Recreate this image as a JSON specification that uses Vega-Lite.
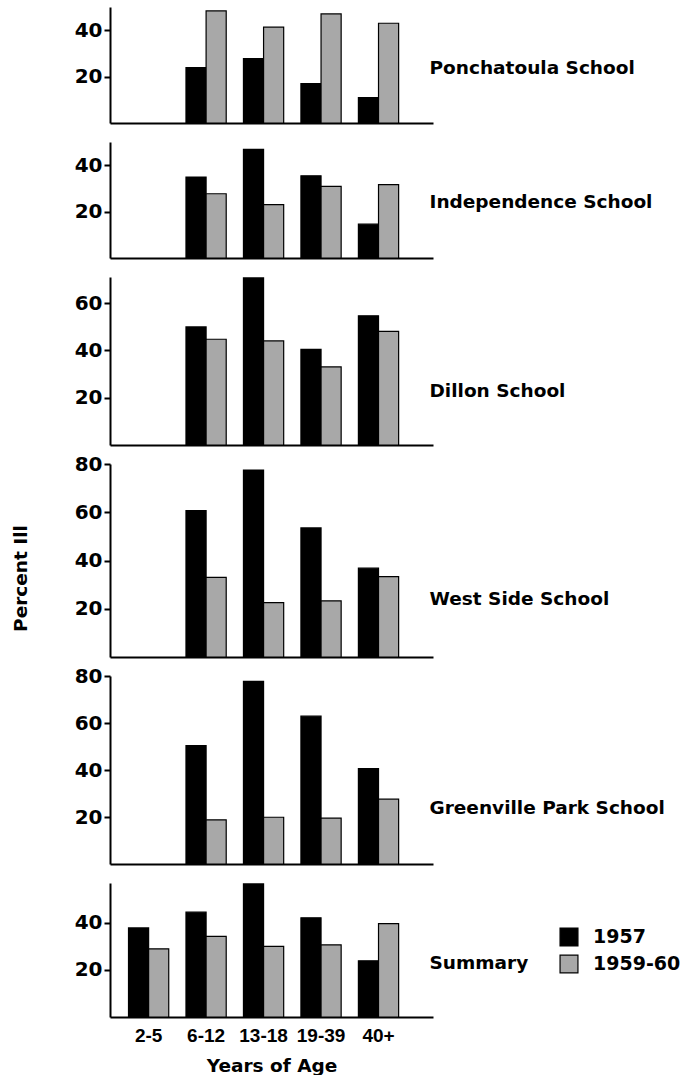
{
  "$schema": "https://vega.github.io/schema/vega-lite/v6.json",
  "padding": {"left": 11, "top": 7, "right": 0, "bottom": 0},
  "background": "white",
  "bounds": "flush",
  "spacing": 19,
  "datasets": {
    "ill": [
      {"school": "Ponchatoula School", "age": "6-12", "year": "1957", "pct": 23.9},
      {"school": "Ponchatoula School", "age": "6-12", "year": "1959-60", "pct": 48.3},
      {"school": "Ponchatoula School", "age": "13-18", "year": "1957", "pct": 27.8},
      {"school": "Ponchatoula School", "age": "13-18", "year": "1959-60", "pct": 41.3},
      {"school": "Ponchatoula School", "age": "19-39", "year": "1957", "pct": 17},
      {"school": "Ponchatoula School", "age": "19-39", "year": "1959-60", "pct": 47},
      {"school": "Ponchatoula School", "age": "40+", "year": "1957", "pct": 10.9},
      {"school": "Ponchatoula School", "age": "40+", "year": "1959-60", "pct": 43},
      {"school": "Independence School", "age": "6-12", "year": "1957", "pct": 34.9},
      {"school": "Independence School", "age": "6-12", "year": "1959-60", "pct": 27.7},
      {"school": "Independence School", "age": "13-18", "year": "1957", "pct": 46.8},
      {"school": "Independence School", "age": "13-18", "year": "1959-60", "pct": 23},
      {"school": "Independence School", "age": "19-39", "year": "1957", "pct": 35.4},
      {"school": "Independence School", "age": "19-39", "year": "1959-60", "pct": 30.9},
      {"school": "Independence School", "age": "40+", "year": "1957", "pct": 14.6},
      {"school": "Independence School", "age": "40+", "year": "1959-60", "pct": 31.6},
      {"school": "Dillon School", "age": "6-12", "year": "1957", "pct": 49.9},
      {"school": "Dillon School", "age": "6-12", "year": "1959-60", "pct": 44.7},
      {"school": "Dillon School", "age": "13-18", "year": "1957", "pct": 70.6},
      {"school": "Dillon School", "age": "13-18", "year": "1959-60", "pct": 44},
      {"school": "Dillon School", "age": "19-39", "year": "1957", "pct": 40.4},
      {"school": "Dillon School", "age": "19-39", "year": "1959-60", "pct": 33},
      {"school": "Dillon School", "age": "40+", "year": "1957", "pct": 54.6},
      {"school": "Dillon School", "age": "40+", "year": "1959-60", "pct": 48},
      {"school": "West Side School", "age": "6-12", "year": "1957", "pct": 60.7},
      {"school": "West Side School", "age": "6-12", "year": "1959-60", "pct": 33},
      {"school": "West Side School", "age": "13-18", "year": "1957", "pct": 77.5},
      {"school": "West Side School", "age": "13-18", "year": "1959-60", "pct": 22.5},
      {"school": "West Side School", "age": "19-39", "year": "1957", "pct": 53.5},
      {"school": "West Side School", "age": "19-39", "year": "1959-60", "pct": 23.3},
      {"school": "West Side School", "age": "40+", "year": "1957", "pct": 36.8},
      {"school": "West Side School", "age": "40+", "year": "1959-60", "pct": 33.3},
      {"school": "Greenville Park School", "age": "6-12", "year": "1957", "pct": 50.4},
      {"school": "Greenville Park School", "age": "6-12", "year": "1959-60", "pct": 18.8},
      {"school": "Greenville Park School", "age": "13-18", "year": "1957", "pct": 77.7},
      {"school": "Greenville Park School", "age": "13-18", "year": "1959-60", "pct": 19.9},
      {"school": "Greenville Park School", "age": "19-39", "year": "1957", "pct": 62.9},
      {"school": "Greenville Park School", "age": "19-39", "year": "1959-60", "pct": 19.5},
      {"school": "Greenville Park School", "age": "40+", "year": "1957", "pct": 40.6},
      {"school": "Greenville Park School", "age": "40+", "year": "1959-60", "pct": 27.6},
      {"school": "Summary", "age": "2-5", "year": "1957", "pct": 37.9},
      {"school": "Summary", "age": "2-5", "year": "1959-60", "pct": 29},
      {"school": "Summary", "age": "6-12", "year": "1957", "pct": 44.6},
      {"school": "Summary", "age": "6-12", "year": "1959-60", "pct": 34.3},
      {"school": "Summary", "age": "13-18", "year": "1957", "pct": 56.6},
      {"school": "Summary", "age": "13-18", "year": "1959-60", "pct": 30},
      {"school": "Summary", "age": "19-39", "year": "1957", "pct": 42.2},
      {"school": "Summary", "age": "19-39", "year": "1959-60", "pct": 30.7},
      {"school": "Summary", "age": "40+", "year": "1957", "pct": 23.9},
      {"school": "Summary", "age": "40+", "year": "1959-60", "pct": 39.7}
    ]
  },
  "config": {
    "view": {"stroke": null},
    "axis": {
      "domainColor": "#000", "domainWidth": 2, "tickColor": "#000", "tickWidth": 2, "tickSize": 6,
      "grid": false, "labelFont": "DejaVu Sans", "labelFontWeight": "bold", "labelColor": "#000",
      "titleFont": "DejaVu Sans", "titleFontWeight": "bold", "titleColor": "#000"
    },
    "bar": {"stroke": "#000", "strokeWidth": 1.2}
  },
  "vconcat": [
    {
      "width": 323, "height": 116,
      "layer": [
        {
          "data": {"name": "ill"},
          "transform": [{"filter": "datum.school === 'Ponchatoula School'"}],
          "mark": {"type": "bar"},
          "encoding": {
            "x": {"field": "age", "type": "nominal", "sort": null, "scale": {"domain": ["2-5", "6-12", "13-18", "19-39", "40+"], "paddingInner": 0.3, "paddingOuter": 0.46, "align": 0.35}, "axis": {"labels": false, "ticks": false, "title": null}},
            "xOffset": {"field": "year", "type": "nominal", "scale": {"domain": ["1957", "1959-60"]}},
            "y": {"field": "pct", "type": "quantitative", "scale": {"domain": [0, 50], "nice": false}, "axis": {"values": [20, 40], "title": null, "labelFontSize": 20, "labelPadding": 2}},
            "fill": {"field": "year", "type": "nominal", "scale": {"domain": ["1957", "1959-60"], "range": ["#000000", "#a8a8a8"]},
              "legend": {"orient": "none", "legendX": 449, "legendY": 920, "title": null, "symbolType": "square", "symbolSize": 320, "symbolStrokeColor": "#000", "symbolStrokeWidth": 1.2, "labelFont": "DejaVu Sans", "labelFontWeight": "bold", "labelFontSize": 19, "labelColor": "#000", "rowPadding": 3, "labelOffset": 14}}
          }
        },
        {
          "data": {"values": [{"label": "Ponchatoula School"}]},
          "mark": {"type": "text", "align": "left", "baseline": "middle", "dx": 51, "font": "DejaVu Sans", "fontWeight": "bold", "fontSize": 18.5, "color": "#000"},
          "encoding": {"x": {"datum": "40+"}, "y": {"datum": 23.5}, "text": {"field": "label"}}
        }
      ]
    },
    {
      "width": 323, "height": 116,
      "layer": [
        {
          "data": {"name": "ill"},
          "transform": [{"filter": "datum.school === 'Independence School'"}],
          "mark": {"type": "bar"},
          "encoding": {
            "x": {"field": "age", "type": "nominal", "sort": null, "scale": {"domain": ["2-5", "6-12", "13-18", "19-39", "40+"], "paddingInner": 0.3, "paddingOuter": 0.46, "align": 0.35}, "axis": {"labels": false, "ticks": false, "title": null}},
            "xOffset": {"field": "year", "type": "nominal", "scale": {"domain": ["1957", "1959-60"]}},
            "y": {"field": "pct", "type": "quantitative", "scale": {"domain": [0, 50], "nice": false}, "axis": {"values": [20, 40], "title": null, "labelFontSize": 20, "labelPadding": 2}},
            "fill": {"field": "year", "type": "nominal", "scale": {"domain": ["1957", "1959-60"], "range": ["#000000", "#a8a8a8"]}}
          }
        },
        {
          "data": {"values": [{"label": "Independence School"}]},
          "mark": {"type": "text", "align": "left", "baseline": "middle", "dx": 51, "font": "DejaVu Sans", "fontWeight": "bold", "fontSize": 18.5, "color": "#000"},
          "encoding": {"x": {"datum": "40+"}, "y": {"datum": 24}, "text": {"field": "label"}}
        }
      ]
    },
    {
      "width": 323, "height": 168,
      "layer": [
        {
          "data": {"name": "ill"},
          "transform": [{"filter": "datum.school === 'Dillon School'"}],
          "mark": {"type": "bar"},
          "encoding": {
            "x": {"field": "age", "type": "nominal", "sort": null, "scale": {"domain": ["2-5", "6-12", "13-18", "19-39", "40+"], "paddingInner": 0.3, "paddingOuter": 0.46, "align": 0.35}, "axis": {"labels": false, "ticks": false, "title": null}},
            "xOffset": {"field": "year", "type": "nominal", "scale": {"domain": ["1957", "1959-60"]}},
            "y": {"field": "pct", "type": "quantitative", "scale": {"domain": [0, 71], "nice": false}, "axis": {"values": [20, 40, 60], "title": null, "labelFontSize": 20, "labelPadding": 2}},
            "fill": {"field": "year", "type": "nominal", "scale": {"domain": ["1957", "1959-60"], "range": ["#000000", "#a8a8a8"]}}
          }
        },
        {
          "data": {"values": [{"label": "Dillon School"}]},
          "mark": {"type": "text", "align": "left", "baseline": "middle", "dx": 51, "font": "DejaVu Sans", "fontWeight": "bold", "fontSize": 18.5, "color": "#000"},
          "encoding": {"x": {"datum": "40+"}, "y": {"datum": 23}, "text": {"field": "label"}}
        }
      ]
    },
    {
      "width": 323, "height": 193,
      "layer": [
        {
          "data": {"name": "ill"},
          "transform": [{"filter": "datum.school === 'West Side School'"}],
          "mark": {"type": "bar"},
          "encoding": {
            "x": {"field": "age", "type": "nominal", "sort": null, "scale": {"domain": ["2-5", "6-12", "13-18", "19-39", "40+"], "paddingInner": 0.3, "paddingOuter": 0.46, "align": 0.35}, "axis": {"labels": false, "ticks": false, "title": null}},
            "xOffset": {"field": "year", "type": "nominal", "scale": {"domain": ["1957", "1959-60"]}},
            "y": {"field": "pct", "type": "quantitative", "scale": {"domain": [0, 80], "nice": false}, "axis": {"values": [20, 40, 60, 80], "title": "Percent Ill", "titleFontSize": 18.5, "titlePadding": 44, "titleY": 114, "labelFontSize": 20, "labelPadding": 2}},
            "fill": {"field": "year", "type": "nominal", "scale": {"domain": ["1957", "1959-60"], "range": ["#000000", "#a8a8a8"]}}
          }
        },
        {
          "data": {"values": [{"label": "West Side School"}]},
          "mark": {"type": "text", "align": "left", "baseline": "middle", "dx": 51, "font": "DejaVu Sans", "fontWeight": "bold", "fontSize": 18.5, "color": "#000"},
          "encoding": {"x": {"datum": "40+"}, "y": {"datum": 24}, "text": {"field": "label"}}
        }
      ]
    },
    {
      "width": 323, "height": 188,
      "layer": [
        {
          "data": {"name": "ill"},
          "transform": [{"filter": "datum.school === 'Greenville Park School'"}],
          "mark": {"type": "bar"},
          "encoding": {
            "x": {"field": "age", "type": "nominal", "sort": null, "scale": {"domain": ["2-5", "6-12", "13-18", "19-39", "40+"], "paddingInner": 0.3, "paddingOuter": 0.46, "align": 0.35}, "axis": {"labels": false, "ticks": false, "title": null}},
            "xOffset": {"field": "year", "type": "nominal", "scale": {"domain": ["1957", "1959-60"]}},
            "y": {"field": "pct", "type": "quantitative", "scale": {"domain": [0, 80], "nice": false}, "axis": {"values": [20, 40, 60, 80], "title": null, "labelFontSize": 20, "labelPadding": 2}},
            "fill": {"field": "year", "type": "nominal", "scale": {"domain": ["1957", "1959-60"], "range": ["#000000", "#a8a8a8"]}}
          }
        },
        {
          "data": {"values": [{"label": "Greenville Park School"}]},
          "mark": {"type": "text", "align": "left", "baseline": "middle", "dx": 51, "font": "DejaVu Sans", "fontWeight": "bold", "fontSize": 18.5, "color": "#000"},
          "encoding": {"x": {"datum": "40+"}, "y": {"datum": 24}, "text": {"field": "label"}}
        }
      ]
    },
    {
      "width": 323, "height": 134,
      "layer": [
        {
          "data": {"name": "ill"},
          "transform": [{"filter": "datum.school === 'Summary'"}],
          "mark": {"type": "bar"},
          "encoding": {
            "x": {"field": "age", "type": "nominal", "sort": null, "scale": {"domain": ["2-5", "6-12", "13-18", "19-39", "40+"], "paddingInner": 0.3, "paddingOuter": 0.46, "align": 0.35}, "axis": {"labels": true, "ticks": false, "title": "Years of Age", "labelAngle": 0, "labelFont": "Liberation Sans", "labelFontWeight": "bold", "labelFontSize": 19, "labelPadding": 9, "titleFontSize": 18.5, "titlePadding": 11}},
            "xOffset": {"field": "year", "type": "nominal", "scale": {"domain": ["1957", "1959-60"]}},
            "y": {"field": "pct", "type": "quantitative", "scale": {"domain": [0, 57], "nice": false}, "axis": {"values": [20, 40], "title": null, "labelFontSize": 20, "labelPadding": 2}},
            "fill": {"field": "year", "type": "nominal", "scale": {"domain": ["1957", "1959-60"], "range": ["#000000", "#a8a8a8"]}}
          }
        },
        {
          "data": {"values": [{"label": "Summary"}]},
          "mark": {"type": "text", "align": "left", "baseline": "middle", "dx": 51, "font": "DejaVu Sans", "fontWeight": "bold", "fontSize": 18.5, "color": "#000"},
          "encoding": {"x": {"datum": "40+"}, "y": {"datum": 23}, "text": {"field": "label"}}
        }
      ]
    }
  ]
}
